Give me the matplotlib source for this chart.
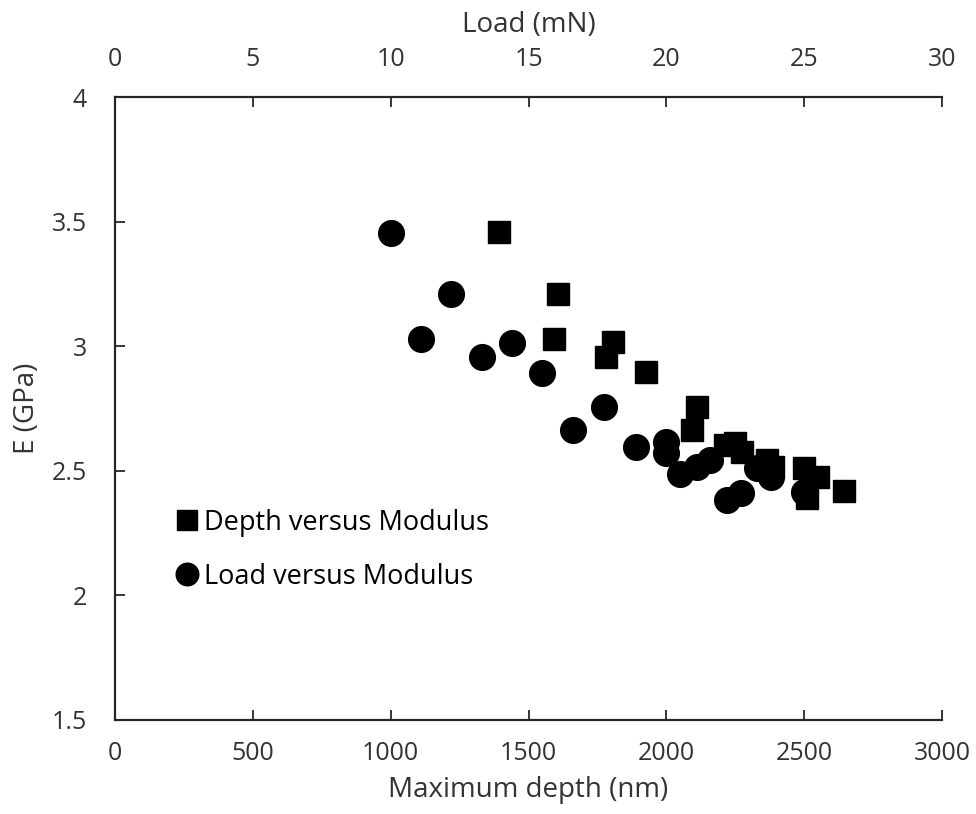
import matplotlib.pyplot as plt

plt.rcParams['font.family'] = ['Open Sans', 'DejaVu Sans']

# Depth versus Modulus (bottom axis, nm)
depth_nm = [1394, 1608, 1592, 1807, 1781, 1926, 2112, 2092, 2212, 2249,
            2273, 2364, 2388, 2499, 2551, 2509, 2644]
depth_E = [3.46, 3.21, 3.03, 3.015, 2.955, 2.895, 2.755, 2.665, 2.605, 2.61,
           2.577, 2.543, 2.516, 2.51, 2.476, 2.39, 2.418]

# Load versus Modulus (top axis, mN)
load_mN = [10.0, 12.2, 11.1, 13.3, 14.4, 15.5, 17.75, 16.6, 18.9, 20.0,
           20.0, 20.5, 21.1, 21.6, 22.2, 22.7, 23.3, 23.8, 25.0]
load_E = [3.455, 3.21, 3.028, 2.955, 3.014, 2.893, 2.756, 2.664, 2.597, 2.617,
          2.57, 2.487, 2.514, 2.543, 2.383, 2.412, 2.51, 2.476, 2.416]

depth_ticks = [0, 500, 1000, 1500, 2000, 2500, 3000]
load_ticks = [0, 5, 10, 15, 20, 25, 30]
E_ticks = [1.5, 2, 2.5, 3, 3.5, 4]

txt = '#333333'

fig = plt.figure(figsize=(9.76, 8.14), dpi=100)
ax = fig.add_axes([0.1178, 0.1155, 0.8474, 0.7653])
ax2 = ax.twiny()

sq, = ax.plot(depth_nm, depth_E, 's', color='black', markersize=16.5,
              linestyle='none', label='Depth versus Modulus')
ci, = ax2.plot(load_mN, load_E, 'o', color='black', markersize=18.5,
               linestyle='none', label='Load versus Modulus')

ax.set_xlim(0, 3000)
ax.set_ylim(1.5, 4)
ax2.set_xlim(0, 30)
ax.set_xticks(depth_ticks)
ax.set_yticks(E_ticks)
ax.set_yticklabels(['1.5', '2', '2.5', '3', '3.5', '4'])
ax2.set_xticks(load_ticks)

for a in (ax, ax2):
    a.spines['right'].set_visible(False)
    for s in a.spines.values():
        s.set_linewidth(1.5)
        s.set_color('#262626')

ax.tick_params(axis='both', direction='in', length=7, width=1.3,
               labelsize=18, labelcolor=txt, color='#262626', pad=15)
ax.tick_params(axis='y', pad=20)
ax2.tick_params(axis='x', direction='in', length=7, width=1.3,
                labelsize=18, labelcolor=txt, color='#262626', pad=18)

ax.set_xlabel('Maximum depth (nm)', fontsize=20, color=txt, labelpad=7)
ax.set_ylabel('E (GPa)', fontsize=20, color=txt, labelpad=8)
ax2.set_xlabel('Load (mN)', fontsize=20, color=txt, labelpad=11)

leg = ax2.legend(handles=[sq, ci], loc='upper left', bbox_to_anchor=(0.04, 0.378),
                 frameon=False, fontsize=19.5, handletextpad=0.05, handlelength=1.1,
                 labelspacing=0.95, markerscale=0.88, labelcolor='black')

fig.savefig('out.png', dpi=100)
